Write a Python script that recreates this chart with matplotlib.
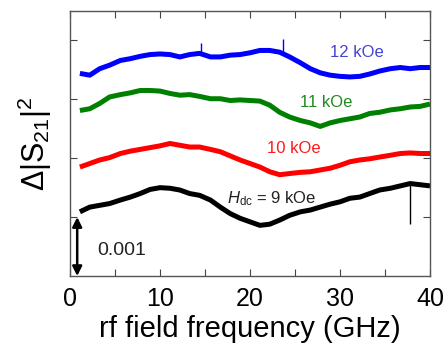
import matplotlib
matplotlib.use("Agg")
import matplotlib.pyplot as plt
import numpy as np

plt.rcParams['font.family'] = ['Liberation Sans', 'DejaVu Sans']
plt.rcParams['mathtext.fontset'] = 'custom'
plt.rcParams['mathtext.rm'] = 'Liberation Sans'
plt.rcParams['mathtext.it'] = 'Liberation Sans:italic'

# frequency (GHz) and trace values (units of 0.001, offset for display)
freq = [1.1, 2.2, 3.3, 4.4, 5.6, 6.7, 7.8, 8.9, 10.0, 11.1, 12.2, 13.3, 14.4,
        15.6, 16.7, 17.8, 18.9, 20.0, 21.1, 22.2, 23.3, 24.4, 25.6, 26.7, 27.8,
        28.9, 30.0, 31.1, 32.2, 33.3, 34.4, 35.6, 36.7, 37.8, 38.9, 40.0]

h9 = [1.09, 1.17, 1.20, 1.23, 1.29, 1.34, 1.40, 1.47, 1.50, 1.49, 1.46, 1.40, 1.37,
      1.29, 1.17, 1.06, 0.98, 0.92, 0.86, 0.88, 0.95, 1.03, 1.09, 1.12, 1.17,
      1.22, 1.26, 1.32, 1.34, 1.40, 1.46, 1.49, 1.53, 1.57, 1.55, 1.53]
h10 = [1.85, 1.91, 1.97, 2.01, 2.08, 2.12, 2.15, 2.18, 2.21, 2.25, 2.22, 2.19, 2.19,
       2.15, 2.11, 2.04, 1.97, 1.91, 1.85, 1.77, 1.72, 1.74, 1.76, 1.77, 1.80,
       1.83, 1.88, 1.94, 1.97, 1.99, 2.02, 2.05, 2.08, 2.09, 2.08, 2.08]
h11 = [2.81, 2.84, 2.93, 3.04, 3.08, 3.11, 3.15, 3.15, 3.14, 3.10, 3.07, 3.08, 3.05,
       3.01, 3.01, 2.98, 2.99, 2.98, 2.97, 2.90, 2.78, 2.70, 2.64, 2.60, 2.54,
       2.60, 2.64, 2.67, 2.70, 2.76, 2.78, 2.82, 2.84, 2.87, 2.88, 2.92]
h12 = [3.44, 3.41, 3.52, 3.58, 3.66, 3.69, 3.73, 3.76, 3.77, 3.76, 3.72, 3.76, 3.78,
       3.72, 3.72, 3.75, 3.76, 3.79, 3.83, 3.83, 3.80, 3.72, 3.62, 3.52, 3.45,
       3.41, 3.39, 3.38, 3.39, 3.43, 3.48, 3.52, 3.54, 3.52, 3.54, 3.54]

# narrow spikes seen in the traces
spike_x = [14.5, 23.7, 37.8]
spike_lo = [3.78, 3.80, 0.89]
spike_hi = [3.95, 4.03, 1.57]
spike_c = ['#0000ff', '#0000ff', 'black']

series = [(h9, 'black'), (h10, '#ff0000'), (h11, '#008000'), (h12, '#0000ff')]

fig = plt.figure(figsize=(4.47, 3.43), dpi=100)
ax = fig.add_axes([0.1566, 0.1953, 0.8054, 0.7727])

for vals, c in series:
    ax.plot(freq, vals, color=c, lw=3.6, solid_joinstyle='round',
            solid_capstyle='butt')
for x, lo, hi, c in zip(spike_x, spike_lo, spike_hi, spike_c):
    ax.vlines(x, lo, hi, color=c, lw=1.0)

ax.text(28.9, 3.80, '12 kOe', color='#4444d4', fontsize=12, va='center')
ax.text(25.6, 2.95, '11 kOe', color='#1f8a1f', fontsize=12, va='center')
ax.text(21.9, 2.17, '10 kOe', color='#ff1a1a', fontsize=12, va='center')
ax.text(17.4, 1.31, r'$H_{\mathrm{dc}}$ = 9 kOe', color='#222222', fontsize=12, va='center')

ax.annotate('', xy=(0.8, 0.0), xytext=(0.8, 1.0),
            arrowprops=dict(arrowstyle='<|-|>', color='black', lw=1.8,
                            mutation_scale=14, shrinkA=0, shrinkB=0))
ax.text(3.0, 0.44, '0.001', fontsize=14, va='center', color='#222222')

ax.set_xlim(0, 40)
ax.set_ylim(0, 4.5)
ax.set_xticks([0, 10, 20, 30, 40])
ax.set_xticks([5, 15, 25, 35], minor=True)
ax.set_yticks([1, 2, 3, 4])
ax.set_yticklabels([])
ax.tick_params(axis='both', which='both', direction='in', top=True, right=True,
               length=5, width=0.8, color='#444444')
ax.tick_params(axis='x', labelsize=18, pad=8)
for s in ax.spines.values():
    s.set_color('#555555')
    s.set_linewidth(1.0)

ax.set_xlabel('rf field frequency (GHz)', fontsize=21, labelpad=3)
ax.set_ylabel('Δ|S$_{21}$|$^{2}$', fontsize=22)
ax.yaxis.set_label_coords(-0.045, 0.5)

fig.savefig('out.png', dpi=100)
